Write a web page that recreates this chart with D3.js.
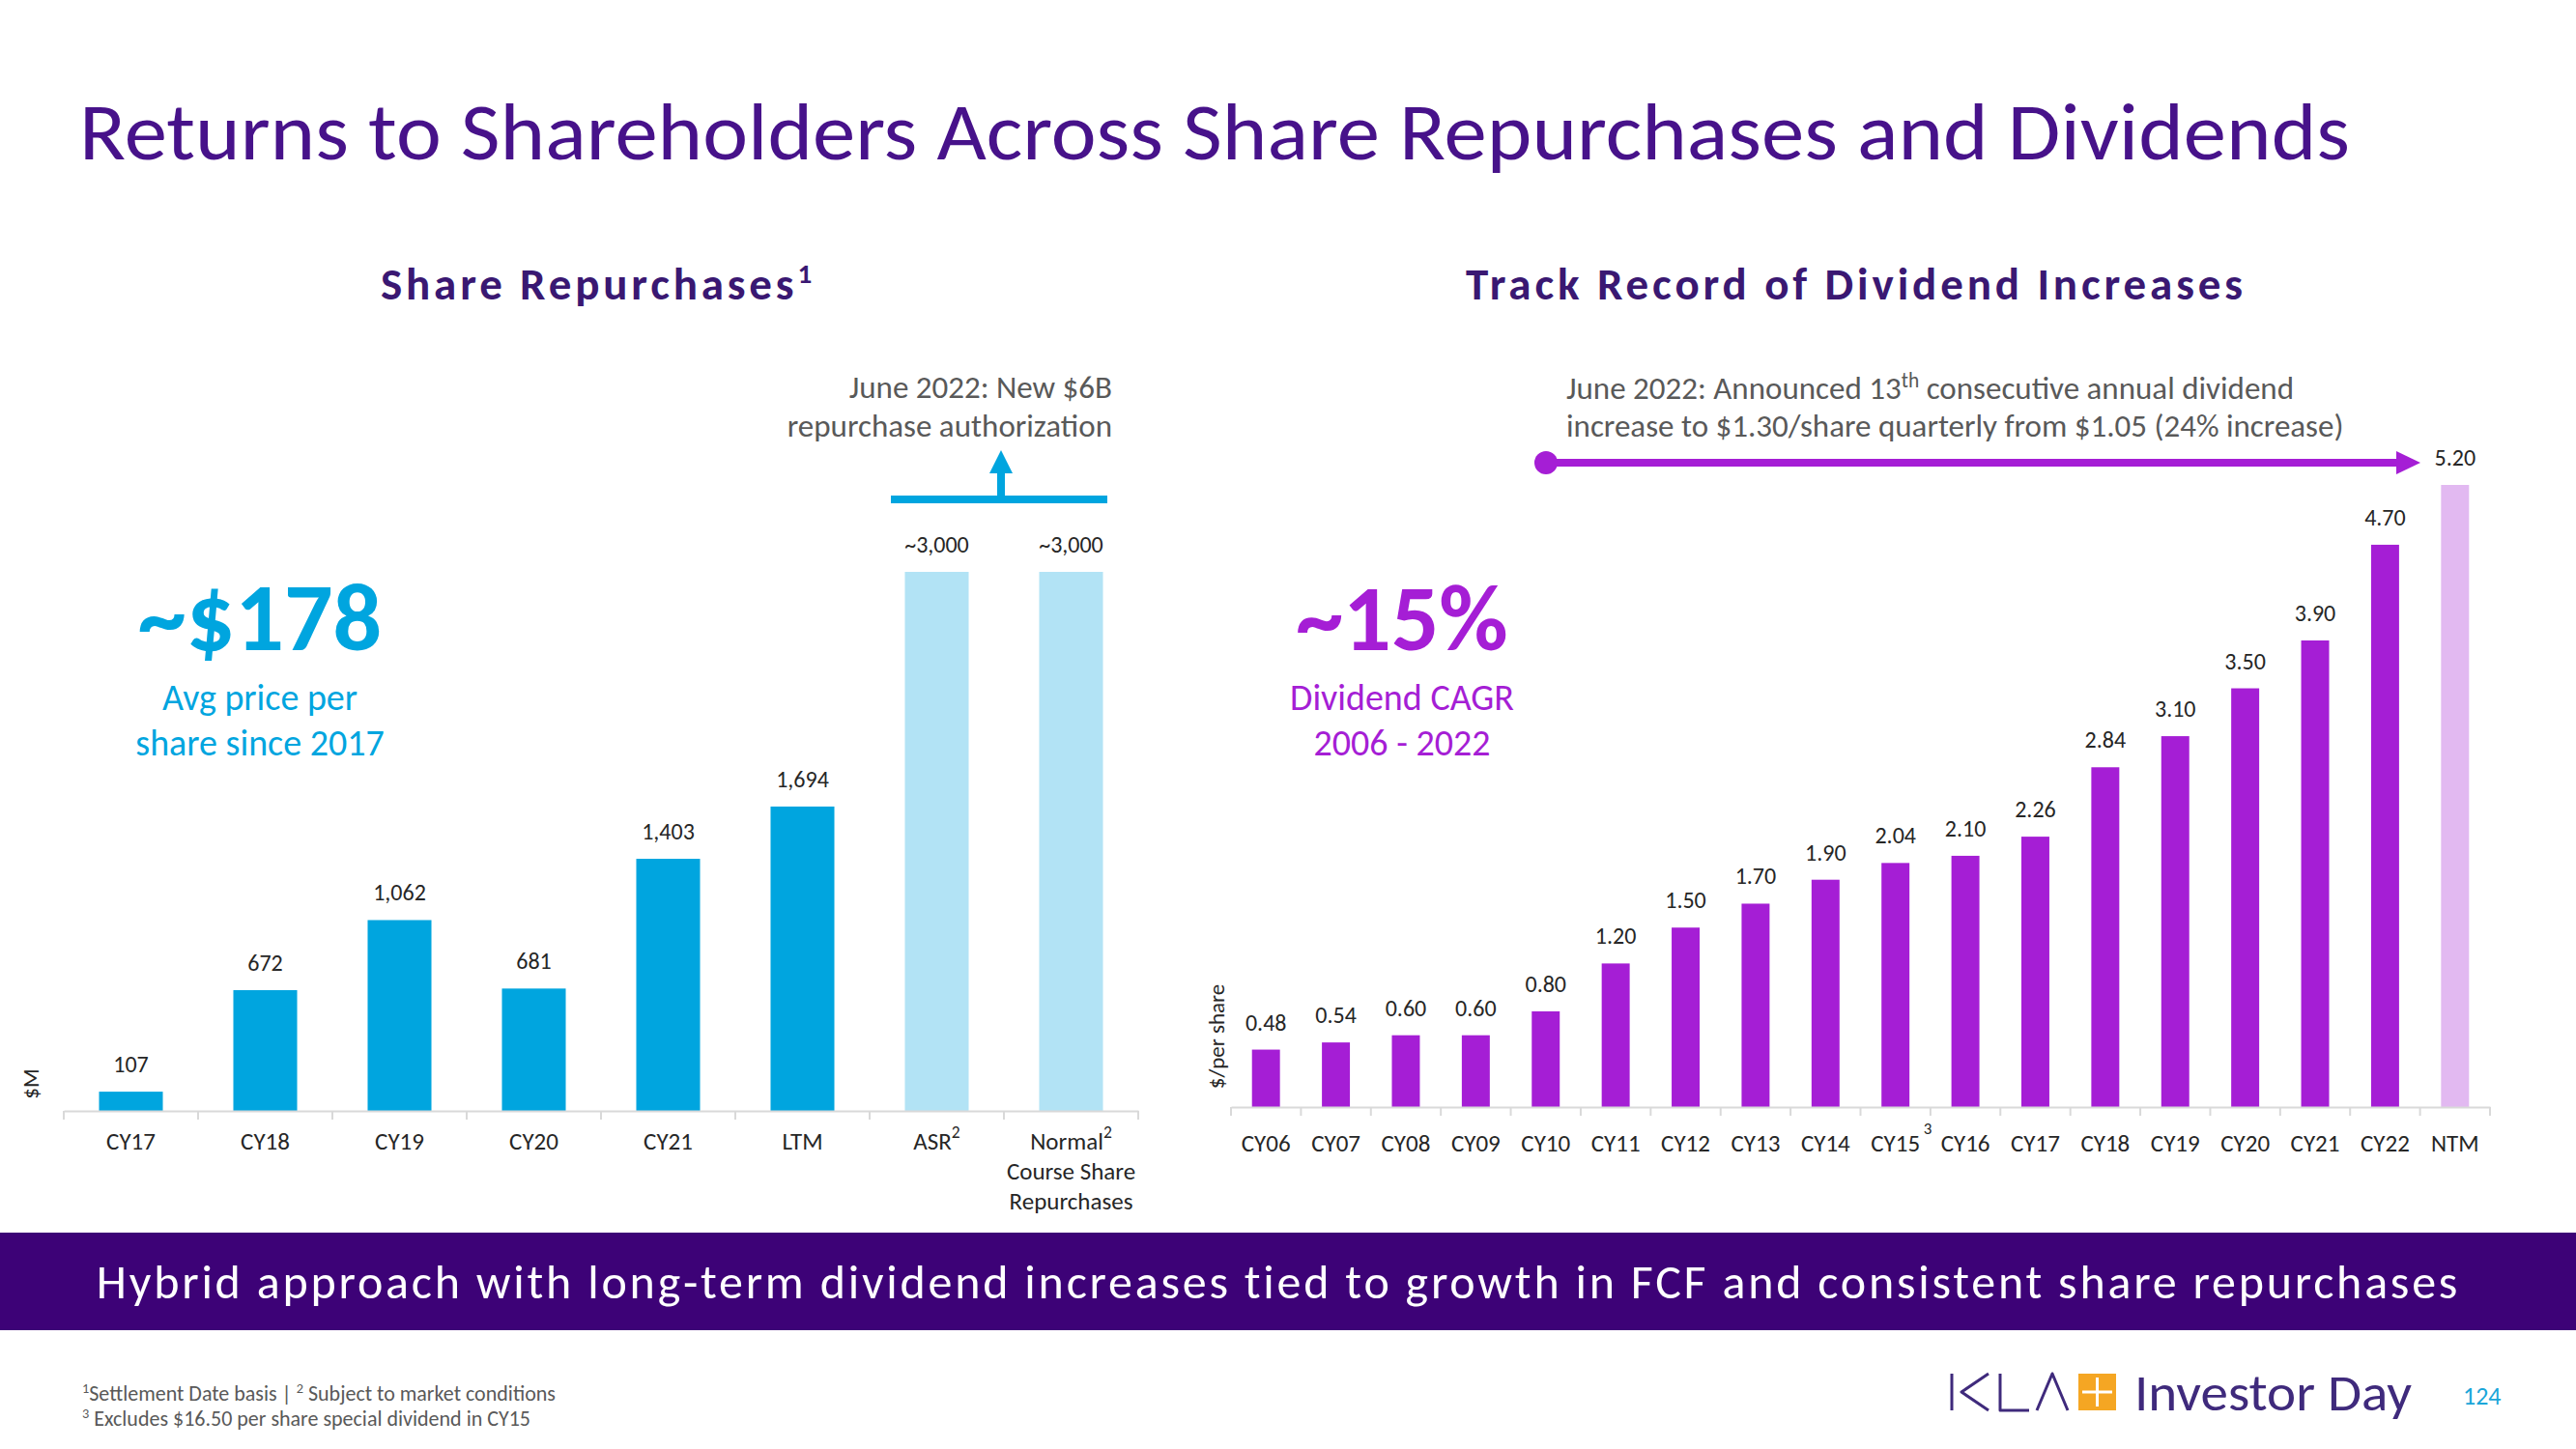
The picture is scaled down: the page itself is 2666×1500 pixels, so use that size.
<!DOCTYPE html>
<html>
<head>
<meta charset="utf-8">
<script src="https://cdn.jsdelivr.net/npm/d3@7"></script>
<style>
  html,body{margin:0;padding:0;background:#fff;}
  svg{display:block;}
  text{font-family:Carlito,Lato,"Open Sans",sans-serif;}
</style>
</head>
<body>
<script>
// ---------------- DATA ----------------
const repCategories = ["CY17","CY18","CY19","CY20","CY21","LTM","ASR","Normal"];
const repValues     = [107, 672, 1062, 681, 1403, 1694, 3000, 3000];
const repLabels     = ["107","672","1,062","681","1,403","1,694","~3,000","~3,000"];
const repProjected  = [false,false,false,false,false,false,true,true];

const divCategories = ["CY06","CY07","CY08","CY09","CY10","CY11","CY12","CY13","CY14","CY15","CY16","CY17","CY18","CY19","CY20","CY21","CY22","NTM"];
const divValues     = [0.48,0.54,0.60,0.60,0.80,1.20,1.50,1.70,1.90,2.04,2.10,2.26,2.84,3.10,3.50,3.90,4.70,5.20];
const divProjected  = divCategories.map(c => c === "NTM");

// ---------------- SETUP ----------------
const W = 2666, H = 1500;
const svg = d3.select("body").append("svg").attr("width", W).attr("height", H);

const C = {
  title: "#47128A", sub: "#3A1872", cyan: "#00A5DF", cyanLight: "#B2E3F5",
  purple: "#A51ED5", purpleLight: "#E2B9F1", grey: "#595959", dark: "#262626",
  axis: "#D9D9D9", banner: "#3D0277", orange: "#F5A623", logo: "#3F2A7C"
};

function fitLS(sel, target) {
  const n = sel.node();
  const cur = n.getComputedTextLength();
  const chars = n.textContent.length;
  sel.attr("letter-spacing", (target - cur) / chars);
}

// ---------------- MAIN TITLE ----------------
svg.append("text").attr("x", 82).attr("y", 165).attr("font-size", 84)
  .attr("fill", C.title).attr("textLength", 2350).attr("lengthAdjust", "spacingAndGlyphs")
  .text("Returns to Shareholders Across Share Repurchases and Dividends");

// ---------------- LEFT CHART ----------------
const xL = d3.scaleBand().domain(repCategories).range([66, 1178]).paddingInner(0.525).paddingOuter(0.2625);
const yL = d3.scaleLinear().domain([0, 3000]).range([1150, 592]);

const sub1 = svg.append("text").attr("x", 619).attr("y", 310).attr("text-anchor", "middle")
  .attr("font-size", 47).attr("font-weight", "bold").attr("fill", C.sub);
sub1.append("tspan").text("Share Repurchases");
sub1.append("tspan").attr("font-size", "0.62em").attr("dy", -17).text("1");
fitLS(sub1, 450);

const gL = svg.append("g");
gL.selectAll("rect").data(repCategories).join("rect")
  .attr("x", d => xL(d)).attr("width", xL.bandwidth())
  .attr("y", (d, i) => yL(repValues[i]))
  .attr("height", (d, i) => yL(0) - yL(repValues[i]))
  .attr("fill", (d, i) => repProjected[i] ? C.cyanLight : C.cyan);
gL.selectAll("text.val").data(repCategories).join("text").attr("class", "val")
  .attr("x", d => xL(d) + xL.bandwidth() / 2)
  .attr("y", (d, i) => yL(repValues[i]) - 20)
  .attr("text-anchor", "middle").attr("font-size", 24).attr("fill", C.dark)
  .text((d, i) => repLabels[i]);

// axis
const axL = svg.append("g").attr("transform", `translate(0,${yL(0)})`)
  .call(d3.axisBottom(xL).tickSize(0).tickFormat(() => ""));
axL.select(".domain").attr("stroke", C.axis).attr("stroke-width", 2);
d3.range(repCategories.length + 1).forEach(i => {
  const xx = xL.range()[0] + i * xL.step();
  axL.append("line").attr("x1", xx).attr("x2", xx).attr("y1", 0).attr("y2", 9)
    .attr("stroke", C.axis).attr("stroke-width", 2);
});
const repTick = {
  "ASR": [["ASR", "2"]],
  "Normal": [["Normal", "2"], ["Course Share"], ["Repurchases"]]
};
repCategories.forEach(c => {
  const lines = repTick[c] || [[c]];
  const cx = xL(c) + xL.bandwidth() / 2;
  lines.forEach((ln, j) => {
    const t = svg.append("text").attr("x", cx).attr("y", 1190 + j * 31)
      .attr("text-anchor", "middle").attr("font-size", 25).attr("fill", C.dark);
    t.append("tspan").text(ln[0]);
    if (ln[1]) t.append("tspan").attr("font-size", "0.7em").attr("dy", -12).text(ln[1]);
  });
});
svg.append("text").attr("transform", "translate(40,1122) rotate(-90)")
  .attr("text-anchor", "middle").attr("font-size", 23).attr("fill", C.dark).text("$M");

// big stat
svg.append("text").attr("x", 269).attr("y", 673).attr("text-anchor", "middle")
  .attr("font-size", 100).attr("font-weight", "bold").attr("fill", C.cyan).text("~$178");
svg.append("text").attr("x", 269).attr("y", 735).attr("text-anchor", "middle")
  .attr("font-size", 38).attr("fill", C.cyan).text("Avg price per");
svg.append("text").attr("x", 269).attr("y", 782).attr("text-anchor", "middle")
  .attr("font-size", 38).attr("fill", C.cyan).text("share since 2017");

// annotation
svg.append("text").attr("x", 1151).attr("y", 412).attr("text-anchor", "end")
  .attr("font-size", 33).attr("fill", C.grey).text("June 2022: New $6B");
svg.append("text").attr("x", 1151).attr("y", 452).attr("text-anchor", "end")
  .attr("font-size", 33).attr("fill", C.grey).text("repurchase authorization");
svg.append("line").attr("x1", 922).attr("x2", 1146).attr("y1", 517).attr("y2", 517)
  .attr("stroke", C.cyan).attr("stroke-width", 8);
svg.append("line").attr("x1", 1036).attr("x2", 1036).attr("y1", 517).attr("y2", 488)
  .attr("stroke", C.cyan).attr("stroke-width", 8);
svg.append("path").attr("d", "M1024,490 L1048,490 L1036,466 Z").attr("fill", C.cyan);

// ---------------- RIGHT CHART ----------------
const xR = d3.scaleBand().domain(divCategories).range([1274, 2577]).paddingInner(0.6).paddingOuter(0.3);
const yR = d3.scaleLinear().domain([0, 5.2]).range([1146, 502]);

const sub2 = svg.append("text").attr("x", 1921).attr("y", 310).attr("text-anchor", "middle")
  .attr("font-size", 47).attr("font-weight", "bold").attr("fill", C.sub)
  .text("Track Record of Dividend Increases");
fitLS(sub2, 808);

const gR = svg.append("g");
gR.selectAll("rect").data(divCategories).join("rect")
  .attr("x", d => xR(d)).attr("width", xR.bandwidth())
  .attr("y", (d, i) => yR(divValues[i]))
  .attr("height", (d, i) => yR(0) - yR(divValues[i]))
  .attr("fill", (d, i) => divProjected[i] ? C.purpleLight : C.purple);
gR.selectAll("text.val").data(divCategories).join("text").attr("class", "val")
  .attr("x", d => xR(d) + xR.bandwidth() / 2)
  .attr("y", (d, i) => yR(divValues[i]) - 20)
  .attr("text-anchor", "middle").attr("font-size", 24).attr("fill", C.dark)
  .text((d, i) => d3.format(".2f")(divValues[i]));

const axR = svg.append("g").attr("transform", `translate(0,${yR(0)})`)
  .call(d3.axisBottom(xR).tickSize(0).tickFormat(() => ""));
axR.select(".domain").attr("stroke", C.axis).attr("stroke-width", 2);
d3.range(divCategories.length + 1).forEach(i => {
  const xx = xR.range()[0] + i * xR.step();
  axR.append("line").attr("x1", xx).attr("x2", xx).attr("y1", 0).attr("y2", 9)
    .attr("stroke", C.axis).attr("stroke-width", 2);
});
divCategories.forEach(c => {
  const cx = xR(c) + xR.bandwidth() / 2;
  const t = svg.append("text").attr("x", cx).attr("y", 1192)
    .attr("text-anchor", "middle").attr("font-size", 25).attr("fill", C.dark);
  t.append("tspan").text(c);
  if (c === "CY15") {
    svg.append("text").attr("x", cx + 29).attr("y", 1174).attr("font-size", 17)
      .attr("fill", C.dark).text("3");
  }
});
svg.append("text").attr("transform", "translate(1267,1073) rotate(-90)")
  .attr("text-anchor", "middle").attr("font-size", 23).attr("fill", C.dark).text("$/per share");

// big stat
svg.append("text").attr("x", 1451).attr("y", 673).attr("text-anchor", "middle")
  .attr("font-size", 98).attr("font-weight", "bold").attr("fill", C.purple).text("~15%");
svg.append("text").attr("x", 1451).attr("y", 735).attr("text-anchor", "middle")
  .attr("font-size", 38).attr("fill", C.purple).text("Dividend CAGR");
svg.append("text").attr("x", 1451).attr("y", 782).attr("text-anchor", "middle")
  .attr("font-size", 38).attr("fill", C.purple).text("2006 - 2022");

// annotation
const an1 = svg.append("text").attr("x", 1621).attr("y", 413).attr("font-size", 33).attr("fill", C.grey);
an1.append("tspan").text("June 2022: Announced 13");
an1.append("tspan").attr("font-size", "0.65em").attr("dy", -12).text("th");
an1.append("tspan").attr("dy", 12).text(" consecutive annual dividend");
svg.append("text").attr("x", 1621).attr("y", 452).attr("font-size", 33).attr("fill", C.grey)
  .text("increase to $1.30/share quarterly from $1.05 (24% increase)");
svg.append("line").attr("x1", 1600).attr("x2", 2484).attr("y1", 479).attr("y2", 479)
  .attr("stroke", C.purple).attr("stroke-width", 8);
svg.append("circle").attr("cx", 1600).attr("cy", 479).attr("r", 12).attr("fill", C.purple);
svg.append("path").attr("d", "M2480,467 L2505,479 L2480,491 Z").attr("fill", C.purple);

// ---------------- BANNER ----------------
svg.append("rect").attr("x", 0).attr("y", 1276).attr("width", W).attr("height", 101).attr("fill", C.banner);
const ban = svg.append("text").attr("x", 1323).attr("y", 1344).attr("text-anchor", "middle")
  .attr("font-size", 50).attr("fill", "#fff")
  .text("Hybrid approach with long-term dividend increases tied to growth in FCF and consistent share repurchases");
fitLS(ban, 2446);

// ---------------- FOOTNOTES ----------------
const f1 = svg.append("text").attr("x", 85).attr("y", 1450).attr("font-size", 22).attr("fill", C.grey);
f1.append("tspan").attr("font-size", "0.65em").attr("dy", -8).text("1");
f1.append("tspan").attr("dy", 8).text("Settlement Date basis | ");
f1.append("tspan").attr("font-size", "0.65em").attr("dy", -8).text("2");
f1.append("tspan").attr("dy", 8).text(" Subject to market conditions");
const f2 = svg.append("text").attr("x", 85).attr("y", 1476).attr("font-size", 22).attr("fill", C.grey);
f2.append("tspan").attr("font-size", "0.65em").attr("dy", -8).text("3");
f2.append("tspan").attr("dy", 8).text(" Excludes $16.50 per share special dividend in CY15");

// ---------------- LOGO ----------------
const lg = svg.append("g").attr("stroke", C.logo).attr("stroke-width", 3).attr("fill", "none")
  .attr("stroke-linejoin", "round");
lg.append("path").attr("d", "M2020,1422 L2020,1460 M2058,1422 L2030,1441 L2058,1460");
lg.append("path").attr("d", "M2070,1422 L2070,1460 L2100,1460");
lg.append("path").attr("d", "M2108,1460 L2124,1422 L2140,1460");
svg.append("rect").attr("x", 2151).attr("y", 1422).attr("width", 39).attr("height", 38).attr("fill", C.orange);
svg.append("line").attr("x1", 2170.5).attr("x2", 2170.5).attr("y1", 1426).attr("y2", 1456)
  .attr("stroke", "#fff").attr("stroke-width", 3);
svg.append("line").attr("x1", 2155).attr("x2", 2186).attr("y1", 1441).attr("y2", 1441)
  .attr("stroke", "#fff").attr("stroke-width", 3);
svg.append("text").attr("x", 2209).attr("y", 1460).attr("font-size", 54).attr("font-weight", 300)
  .attr("fill", C.logo).attr("textLength", 287).attr("lengthAdjust", "spacingAndGlyphs")
  .text("Investor Day");
svg.append("text").attr("x", 2549).attr("y", 1454).attr("font-size", 26)
  .attr("fill", "#1BA6D9").text("124");
</script>
</body>
</html>
